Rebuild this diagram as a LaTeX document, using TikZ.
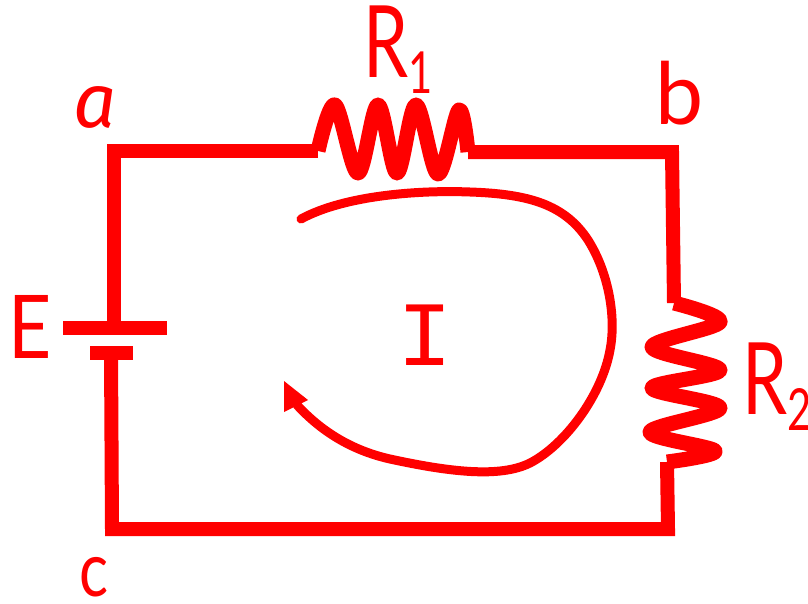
\documentclass[tikz,border=0pt]{standalone}
\usepackage{fontspec}
\setmainfont{Lato}
\newfontfamily\firaf{Fira Sans}
\newfontfamily\monof{Liberation Mono}
\definecolor{inkred}{RGB}{255,0,0}
\tikzset{
  wire/.style={draw=inkred,line width=14pt,line cap=butt,line join=miter},
  coil/.style={draw=inkred,line width=15pt,line cap=butt,line join=round},
  loopline/.style={draw=inkred,line width=9pt,line cap=round,line join=round},
  lab/.style={text=inkred,inner sep=0pt,font=\fontsize{#1}{#1}\selectfont},
  lab/.default=80,
  narrow/.style={xscale=#1,transform shape}
}
\newcommand{\lowdigit}[1]{\raisebox{-16pt}{\fontsize{58}{58}\selectfont #1}}
\begin{document}
\begin{tikzpicture}[x=1pt,y=-1pt]
\useasboundingbox (0,0) rectangle (808,603);
\fill[white] (0,0) rectangle (808,603);
% corner and junction points
\coordinate (ca) at (114,151);
\coordinate (cb) at (672,152);
\coordinate (cc) at (112,529);
\coordinate (cd) at (668,529);
\coordinate (r1l) at (318,151);
\coordinate (r1r) at (468,152);
\coordinate (r2t) at (674,303);
\coordinate (r2b) at (667,462);
\coordinate (bt) at (114,328);
\coordinate (bb) at (111,353);
% wires
\draw[wire] (bt) -- (ca) -- (r1l);
\draw[wire] (r1r) -- (cb) -- (r2t);
\draw[wire] (r2b) -- (cd) -- (cc) -- (bb);
% battery plates
\coordinate (p1l) at (63,328); \coordinate (p1r) at (167,328);
\coordinate (p2l) at (90,353); \coordinate (p2r) at (133,353);
\draw[wire] (p1l) -- (p1r);
\draw[wire] (p2l) -- (p2r);
% resistor R1
\draw[coil] plot[smooth,tension=0.55] coordinates {(r1l) (335,105) (358,173) (378,105) (397,173) (416,105) (438,174) (459,110) (r1r)};
% resistor R2
\draw[coil] plot[smooth,tension=0.55] coordinates {(r2t) (720,322) (652,347) (720,370) (652,388) (720,408) (650,432) (715,451) (r2b)};
% current loop
\coordinate (ls) at (301,219);
\coordinate (le) at (297,405);
\draw[loopline] (ls) .. controls (345,195) and (420,190) .. (470,192)
  .. controls (530,194) and (565,205) .. (588,240)
  .. controls (610,275) and (616,320) .. (610,350)
  .. controls (602,395) and (565,445) .. (530,463)
  .. controls (500,478) and (450,472) .. (390,459)
  .. controls (350,450) and (320,430) .. (le);
\fill[inkred] (284,381) -- (308,400) -- (284,412) -- cycle;
% labels
\node[lab=76] (na) at (95,107) {\firaf\itshape a};
\node[lab=86] (nb) at (680,93) {b};
\node[lab=76,narrow=.8] (nc) at (94,577) {c};
\node[lab=88,narrow=.85] (nE) at (30,327) {E};
\node[lab=100,narrow=.72,anchor=base west] (nR1) at (363,77) {R\lowdigit{1}};
\node[lab=100,narrow=.72,anchor=base west] (nR2) at (742,414) {R\lowdigit{2}};
\node[lab=92] (nI) at (425,335) {\monof I};
\end{tikzpicture}
\end{document}
